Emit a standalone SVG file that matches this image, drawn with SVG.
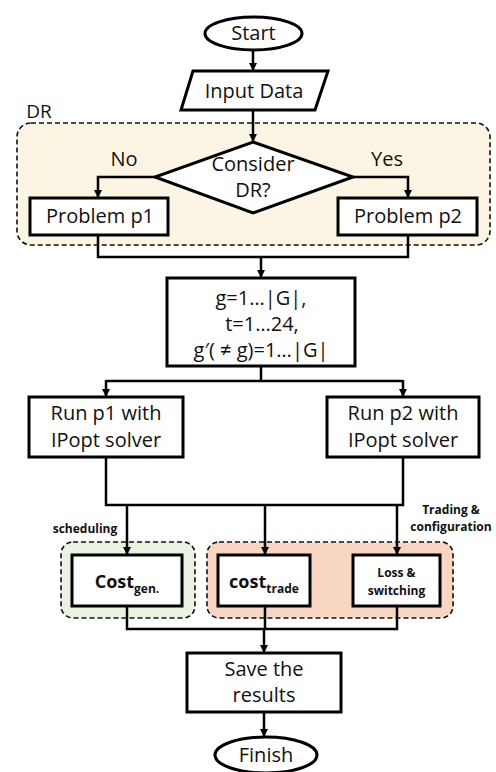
<svg xmlns="http://www.w3.org/2000/svg" width="496" height="772" viewBox="0 0 496 772">
  <defs>
    <marker id="arrow" markerUnits="userSpaceOnUse" markerWidth="9" markerHeight="9" refX="8" refY="4" orient="auto">
      <path d="M0,0 L8,4 L0,8 z" fill="#000"/>
    </marker>
    <style>
      .box { fill: #fff; stroke: #000; stroke-width: 3; }
      .grp { stroke: #111; stroke-width: 1.6; stroke-dasharray: 5 3; }
      .conn { fill: none; stroke: #000; stroke-width: 2.5; }
      .arr { marker-end: url(#arrow); }
      .t { font-family: "Open Sans", "Noto Sans", sans-serif; font-size: 20px; fill: #111; text-anchor: middle; }
      .b { font-family: "Open Sans", "Noto Sans", sans-serif; font-weight: bold; fill: #111; text-anchor: middle; }
      .s { font-size: 12px; }
    </style>
  </defs>

  <!-- group regions -->
  <g id="dr-region">
    <rect class="grp" x="17" y="123" width="473" height="122" rx="14" fill="#FDF5E4"/>
    <text class="t" x="39" y="118" style="font-size:19px">DR</text>
  </g>
  <g id="scheduling-region">
    <rect class="grp" x="61" y="542" width="134" height="76" rx="12" fill="#EAF3E2"/>
    <text class="b s" x="85" y="533">scheduling</text>
  </g>
  <g id="trading-region">
    <rect class="grp" x="207" y="542" width="246" height="76" rx="12" fill="#F9D6C1"/>
    <text class="b s" x="451" y="514">Trading &amp;</text>
    <text class="b s" x="451" y="531">configuration</text>
  </g>

  <!-- connectors -->
  <g id="connectors">
    <path class="conn arr" d="M253,50 V71"/>
    <path class="conn arr" d="M253,110 V142"/>
    <path class="conn arr" d="M155,177 H98 V198"/>
    <path class="conn arr" d="M353,177 H408 V198"/>
    <path class="conn" d="M98,235 V257 H408 V235"/>
    <path class="conn arr" d="M261,257 V278"/>
    <path class="conn" d="M261,366 V381 H106 M261,381 H403"/>
    <path class="conn arr" d="M106,380 V397"/>
    <path class="conn arr" d="M403,380 V397"/>
    <path class="conn" d="M106,457 V505 H403 V457"/>
    <path class="conn arr" d="M127,505 V555"/>
    <path class="conn arr" d="M265,505 V555"/>
    <path class="conn arr" d="M397,505 V555"/>
    <path class="conn" d="M127,606 V629 H397 V606 M265,606 V629"/>
    <path class="conn arr" d="M264,629 V653"/>
    <path class="conn arr" d="M264,712 V737"/>
  </g>

  <!-- nodes -->
  <g id="start">
    <ellipse class="box" cx="253.5" cy="33.5" rx="48.5" ry="16.5"/>
    <text class="t" x="253.5" y="40">Start</text>
  </g>
  <g id="input-data">
    <polygon class="box" points="193,71 328,71 315,110 181,110"/>
    <text class="t" x="254" y="98">Input Data</text>
  </g>
  <g id="consider-dr">
    <polygon class="box" points="253,142 353,177 253,213 155,177"/>
    <text class="t" x="253" y="171">Consider</text>
    <text class="t" x="253" y="197">DR?</text>
    <text class="t" x="124" y="166">No</text>
    <text class="t" x="387" y="166">Yes</text>
  </g>
  <g id="problem-p1">
    <rect class="box" x="30" y="198" width="138" height="37"/>
    <text class="t" x="100" y="223">Problem p1</text>
  </g>
  <g id="problem-p2">
    <rect class="box" x="338" y="198" width="139" height="37"/>
    <text class="t" x="408" y="223">Problem p2</text>
  </g>
  <g id="index-sets">
    <rect class="box" x="167" y="278" width="188" height="88"/>
    <text class="t" x="261" y="305">g=1…|G|,</text>
    <text class="t" x="262" y="331">t=1…24,</text>
    <text class="t" x="261" y="357">g′( ≠ g)=1…|G|</text>
  </g>
  <g id="run-p1">
    <rect class="box" x="29" y="397" width="154" height="60"/>
    <text class="t" x="106" y="420">Run p1 with</text>
    <text class="t" x="106" y="447">IPopt solver</text>
  </g>
  <g id="run-p2">
    <rect class="box" x="327" y="397" width="152" height="60"/>
    <text class="t" x="403" y="420">Run p2 with</text>
    <text class="t" x="403" y="447">IPopt solver</text>
  </g>
  <g id="cost-gen">
    <rect class="box" x="72" y="555" width="110" height="51"/>
    <text class="b" x="127" y="588" style="font-size:18px">Cost<tspan dy="5" style="font-size:12px">gen.</tspan></text>
  </g>
  <g id="cost-trade">
    <rect class="box" x="218" y="555" width="92" height="51"/>
    <text class="b" x="264" y="588" style="font-size:18px">cost<tspan dy="5" style="font-size:12px">trade</tspan></text>
  </g>
  <g id="loss-switching">
    <rect class="box" x="353" y="555" width="87" height="51"/>
    <text class="b s" x="396.5" y="577">Loss &amp;</text>
    <text class="b s" x="396.5" y="595">switching</text>
  </g>
  <g id="save-results">
    <rect class="box" x="187" y="653" width="154" height="59"/>
    <text class="t" x="264" y="676">Save the</text>
    <text class="t" x="264" y="702">results</text>
  </g>
  <g id="finish">
    <ellipse class="box" cx="266" cy="755" rx="51" ry="18"/>
    <text class="t" x="266" y="762">Finish</text>
  </g>
</svg>
